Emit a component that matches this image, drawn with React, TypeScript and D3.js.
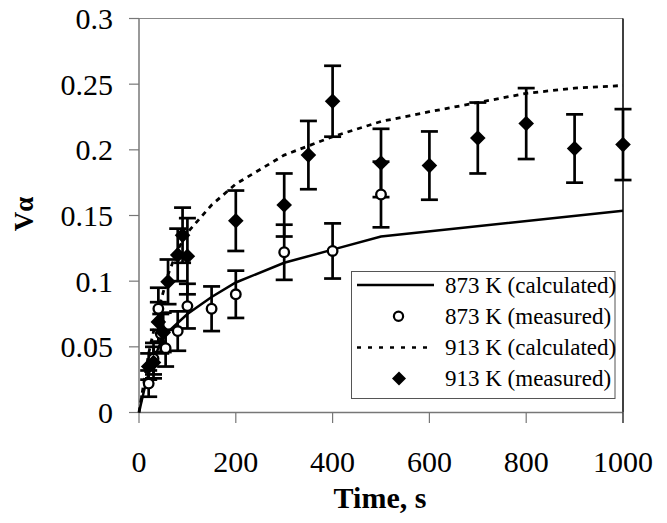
import React from "react";
import * as d3 from "d3";

// ---- data ----
const t873Calc = [0, 10, 20, 30, 50, 100, 150, 200, 300, 400, 500, 1000];
const v873Calc = [0, 0.016, 0.03, 0.04, 0.058, 0.075, 0.088, 0.099, 0.114, 0.124, 0.134, 0.1537];

const t873Meas = [20, 30, 40, 45, 55, 80, 100, 150, 200, 300, 400, 500];
const v873Meas = [0.022, 0.041, 0.079, 0.06, 0.049, 0.062, 0.081, 0.079, 0.09, 0.122, 0.123, 0.166];
const e873Meas = [0.01, 0.012, 0.016, 0.015, 0.014, 0.015, 0.017, 0.017, 0.018, 0.021, 0.021, 0.025];

const t913Calc = [0, 20, 40, 60, 80, 100, 150, 200, 300, 400, 500, 600, 700, 800, 900, 1000];
const v913Calc = [0, 0.045, 0.078, 0.105, 0.124, 0.137, 0.158, 0.174, 0.196, 0.21, 0.2216, 0.229, 0.236, 0.243, 0.247, 0.249];

const t913Meas = [20, 30, 40, 50, 60, 80, 90, 100, 200, 300, 350, 400, 500, 600, 700, 800, 900, 1000];
const v913Meas = [0.035, 0.038, 0.069, 0.061, 0.0995, 0.12, 0.135, 0.119, 0.146, 0.158, 0.196, 0.237, 0.19, 0.188, 0.209, 0.22, 0.201, 0.204];
const e913Meas = [0.01, 0.012, 0.015, 0.015, 0.017, 0.02, 0.021, 0.029, 0.023, 0.024, 0.026, 0.027, 0.026, 0.026, 0.027, 0.027, 0.026, 0.027];

const xTicks = [0, 200, 400, 600, 800, 1000];
const yTicks = [0, 0.05, 0.1, 0.15, 0.2, 0.25, 0.3];
const yTickLabels = ["0", "0.05", "0.1", "0.15", "0.2", "0.25", "0.3"];
const legendLabels = ["873 K (calculated)", "873 K (measured)", "913 K (calculated)", "913 K (measured)"];

const W = 667, H = 523;
const FONT = "'Liberation Serif', 'Times New Roman', serif";

export default function App() {
  const x = d3.scaleLinear().domain([0, 1000]).range([139, 623]);
  const y = d3.scaleLinear().domain([0, 0.3]).range([412.5, 18.5]);

  const line = d3.line<[number, number]>().x((d) => x(d[0])).y((d) => y(d[1]));
  const calc873 = line(t873Calc.map((t, i) => [t, v873Calc[i]] as [number, number])) || "";
  const calc913 = line(t913Calc.map((t, i) => [t, v913Calc[i]] as [number, number])) || "";

  const diamond = (cx: number, cy: number, r: number) =>
    `M${cx},${cy - r}L${cx + r},${cy}L${cx},${cy + r}L${cx - r},${cy}Z`;

  const errBar = (t: number, v: number, e: number, key: string) => {
    const cx = x(t);
    const y1 = y(v - e), y2 = y(v + e);
    return (
      <g key={key} stroke="#000" strokeWidth={2.7}>
        <line x1={cx} x2={cx} y1={y1} y2={y2} />
        <line x1={cx - 8.5} x2={cx + 8.5} y1={y1} y2={y1} />
        <line x1={cx - 8.5} x2={cx + 8.5} y1={y2} y2={y2} />
      </g>
    );
  };

  const legX = 351.5, legY = 271.5, legW = 263.5, legH = 127;
  const rowY = (i: number) => 285 + i * 31.2;

  return (
    <svg width={W} height={H} style={{ position: "absolute", left: 0, top: 0, background: "#fff" }}
      fontFamily={FONT}>
      {/* plot frame */}
      <line x1={139} x2={623} y1={18.5} y2={18.5} stroke="#888" strokeWidth={1.2} />
      <line x1={623} x2={623} y1={18.5} y2={412.5} stroke="#000" strokeWidth={1.5} />
      <line x1={139} x2={623} y1={412.5} y2={412.5} stroke="#777" strokeWidth={1.5} />
      <line x1={139} x2={139} y1={18.5} y2={412.5} stroke="#777" strokeWidth={1.5} />

      {/* y ticks */}
      {yTicks.map((v, i) => (
        <g key={"yt" + i}>
          <line x1={129} x2={139} y1={y(v)} y2={y(v)} stroke="#777" strokeWidth={1.2} />
          <text x={113} y={y(v)} textAnchor="end" dominantBaseline="central" fontSize={30} fill="#000">
            {yTickLabels[i]}
          </text>
        </g>
      ))}
      {/* x ticks */}
      {xTicks.map((t, i) => (
        <g key={"xt" + i}>
          <line x1={x(t)} x2={x(t)} y1={412.5} y2={423} stroke={t === 1000 ? "#000" : "#777"} strokeWidth={1.2} />
          <text x={x(t)} y={472} textAnchor="middle" fontSize={30} fill="#000">
            {t}
          </text>
        </g>
      ))}

      {/* axis titles */}
      <text x={380} y={508} textAnchor="middle" fontSize={30} fontWeight="bold" fill="#000">
        Time, s
      </text>
      <text transform={`translate(33,214) rotate(-90)`} textAnchor="middle" fontSize={27} fontWeight="bold" fill="#000">
        Vα
      </text>

      {/* calculated lines */}
      <path d={calc873} fill="none" stroke="#000" strokeWidth={2.5} />
      <path d={calc913} fill="none" stroke="#000" strokeWidth={2.8} strokeDasharray="5,5" />

      {/* error bars */}
      {t873Meas.map((t, i) => errBar(t, v873Meas[i], e873Meas[i], "e873" + i))}
      {t913Meas.map((t, i) => errBar(t, v913Meas[i], e913Meas[i], "e913" + i))}

      {/* markers */}
      {t873Meas.map((t, i) => (
        <circle key={"c" + i} cx={x(t)} cy={y(v873Meas[i])} r={4.8} fill="#fff" stroke="#000" strokeWidth={2.3} />
      ))}
      {t913Meas.map((t, i) => (
        <path key={"d" + i} d={diamond(x(t), y(v913Meas[i]), 7.8)} fill="#000" />
      ))}

      {/* legend */}
      <rect x={legX} y={legY} width={legW} height={legH} fill="#fff" stroke="#555" strokeWidth={1} />
      <line x1={357} x2={434} y1={rowY(0)} y2={rowY(0)} stroke="#000" strokeWidth={2.5} />
      <circle cx={398.5} cy={rowY(1)} r={4.6} fill="#fff" stroke="#000" strokeWidth={2.2} />
      <line x1={357} x2={434} y1={rowY(2)} y2={rowY(2)} stroke="#000" strokeWidth={2.5} strokeDasharray="4,7" />
      <path d={diamond(399, rowY(3), 7)} fill="#000" />
      {legendLabels.map((s, i) => (
        <text key={"lg" + i} x={445} y={rowY(i)} dominantBaseline="central" fontSize={23} fill="#000">
          {s}
        </text>
      ))}
    </svg>
  );
}
